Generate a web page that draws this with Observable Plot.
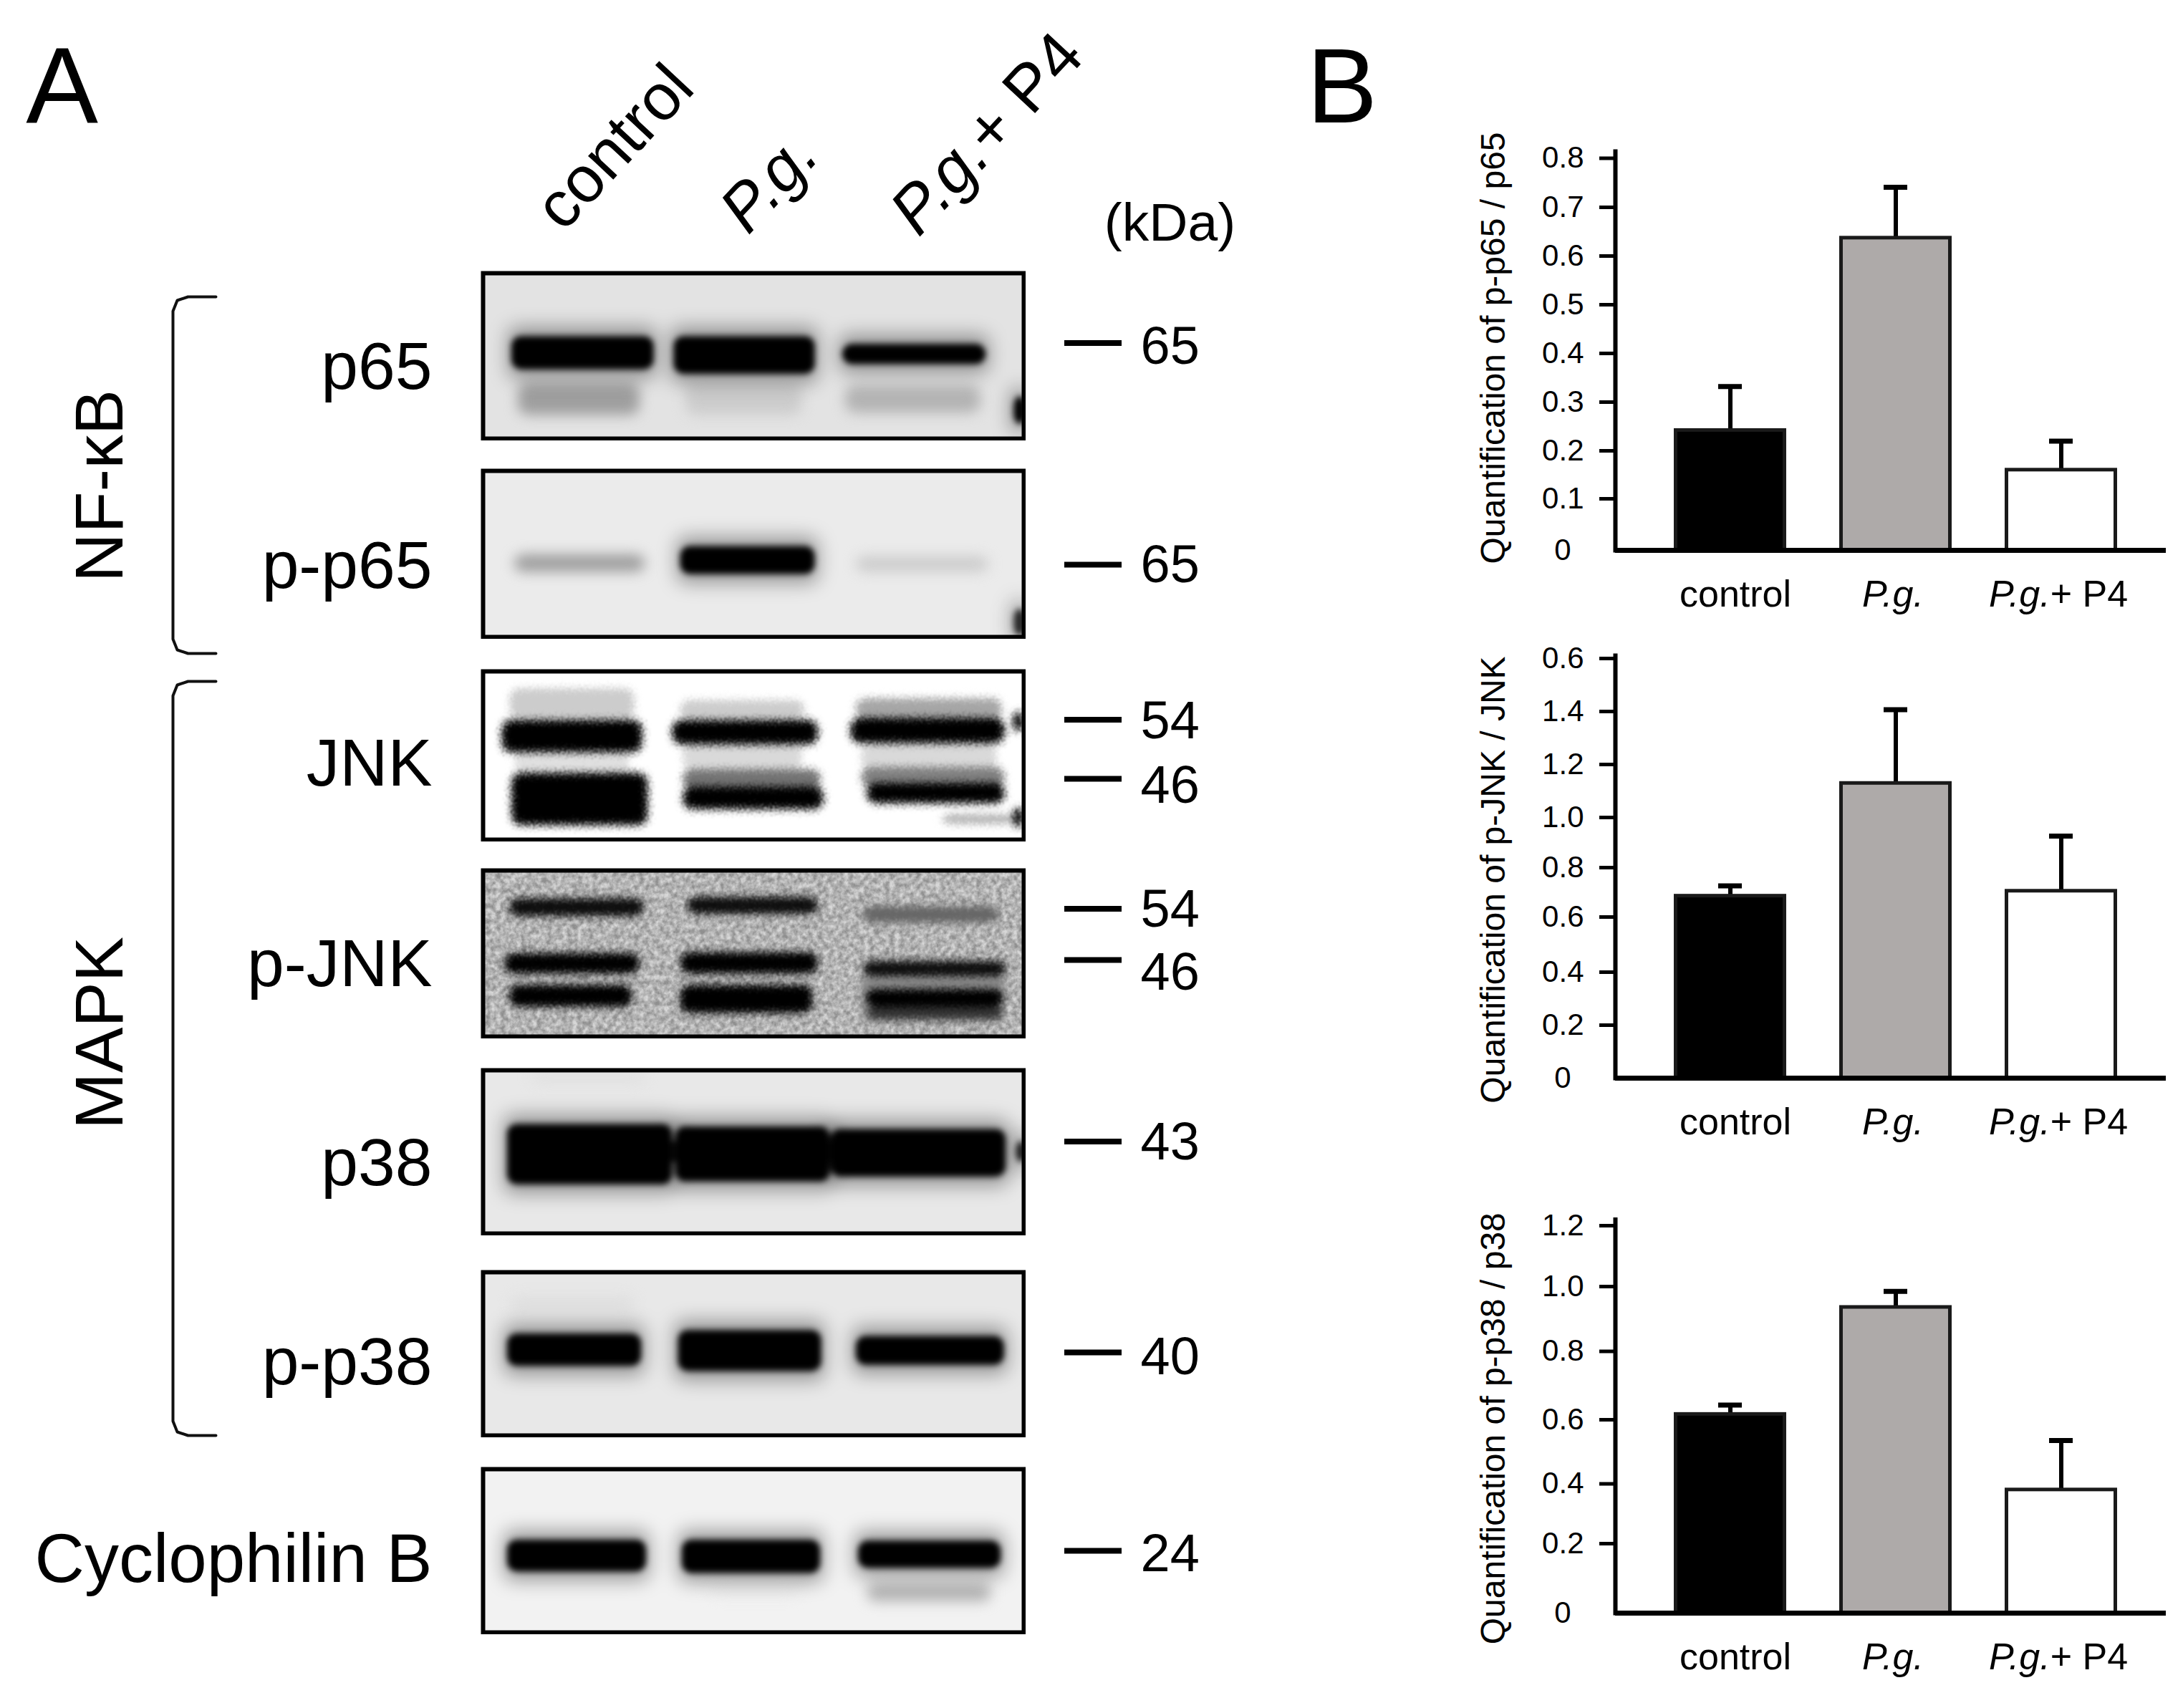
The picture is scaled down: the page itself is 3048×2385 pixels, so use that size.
<!DOCTYPE html>
<html><head><meta charset="utf-8">
<style>html,body{margin:0;padding:0;background:#fff}#page{position:relative;width:3048px;height:2385px;overflow:hidden;font-family:"Liberation Sans",Arial,sans-serif}#page>svg{position:absolute}</style>
<script src="https://cdn.jsdelivr.net/npm/d3@7"></script>
<script src="https://cdn.jsdelivr.net/npm/@observablehq/plot@0.6"></script>
</head><body>
<svg width="0" height="0" style="position:absolute">
<defs>
<filter id="speckle" x="-10%" y="-30%" width="120%" height="160%" color-interpolation-filters="sRGB">
<feGaussianBlur in="SourceGraphic" stdDeviation="5" result="b"/>
<feTurbulence type="fractalNoise" baseFrequency="0.45" numOctaves="2" seed="4" result="n"/>
<feDisplacementMap in="b" in2="n" scale="20" xChannelSelector="R" yChannelSelector="G"/>
<feGaussianBlur stdDeviation="0.8"/>
</filter>
<filter id="grain" x="0" y="0" width="100%" height="100%" color-interpolation-filters="sRGB">
<feTurbulence type="fractalNoise" baseFrequency="0.14" numOctaves="3" seed="9" result="n"/>
<feColorMatrix in="n" type="matrix" values="1.8 0 0 0 -.4 1.8 0 0 0 -.4 1.8 0 0 0 -.4 0 0 0 0 1" result="g"/>
<feComposite in="SourceGraphic" in2="g" operator="arithmetic" k1="0" k2="1" k3="0.28" k4="-0.14"/>
</filter>
</defs>
</svg>
<div id="page"></div>
<script>
// ---------- panel B values (bar height, top of error bar) ----------
const groups = ["control", "P.g.", "P.g.+ P4"];
const p65Mean = [0.242, 0.637, 0.16];
const p65Top = [0.332, 0.741, 0.22];
const jnkMean = [0.685, 1.129, 0.705];
const jnkTop = [0.726, 1.407, 0.926];
const p38Mean = [0.616, 0.936, 0.38];
const p38Top = [0.643, 0.985, 0.535];
const p65Ticks = [0, 0.1, 0.2, 0.3, 0.4, 0.5, 0.6, 0.7, 0.8];
const jnkTicks = [0, 0.2, 0.4, 0.6, 0.8, 1.0, 1.2, 1.4, 1.6];
const p38Ticks = [0, 0.2, 0.4, 0.6, 0.8, 1.0, 1.2];
const p65TickLabels = ["0", "0.1", "0.2", "0.3", "0.4", "0.5", "0.6", "0.7", "0.8"];
const jnkTickLabels = ["0", "0.2", "0.4", "0.6", "0.8", "1.0", "1.2", "1.4", "0.6"];
const p38TickLabels = ["0", "0.2", "0.4", "0.6", "0.8", "1.0", "1.2"];

// ---------- panel A: densities, [lane % from, lane % to, height % from, height % to, intensity] ----------
const p65Bands = [[5.7,31.2,39.6,57,1],[35.7,61,39.6,59.7,1],[66.9,92.6,44.3,53.8,1],[6.5,29,66.8,85.8,.38],[37.5,59,66.8,85.8,.2],[67,92,68,84.6,.3],[98.6,100,76,90,1]];
const pp65Bands = [[5.8,30,50.4,61,.38],[36.9,61,46.8,61,1],[69,93.5,51.5,61,.2],[98.6,100,84.6,98,.85]];
const jnkBands = [[3.5,29.5,29.9,47.4,1],[35,62,29.9,42.8,1],[68,96.5,28.7,42,1],[5.3,30.5,61.4,90.7,1],[37,63,69.6,81.3,1],[71,96.5,67.3,77.8,1],[37,62.5,59.1,69.6,.55],[70,96.5,57.9,68.5,.5],[5,28,11.2,27.6,.2],[36.5,59.5,18.2,27.6,.2],[69,96,17,27.6,.35],[6,27,46.3,62.6,.12],[37,59,43.9,57.9,.15],[70,95,43.9,57.9,.15],[98,100,25,35,1],[98,100,82,92,1],[85,98,86,90,.3]];
const pjnkBands = [[4.9,29.8,17.8,26.8,.95],[37.8,62,16.9,25.5,.95],[70.3,95.4,22.5,30.8,.6],[4,29,50.8,61.5,1],[36.5,62,50.2,61.5,1],[70.3,96.8,55.4,63,.95],[4.9,27.6,69.8,81.5,1],[36.5,61,69.8,85.2,1],[70.8,96.3,72.3,81.5,1],[71,96.3,83,89.2,.8],[70,96.5,63,90,.45]];
const p38Bands = [[4.9,34.6,34.4,68.8,1],[36,63.8,36,67,1],[64.7,96.3,37.5,64,1],[34,36.5,45,55,.95],[63.5,65,45,55,.9],[99,100,45,55,.9],[9,30,1,8,.12]];
const pp38Bands = [[4.9,28.9,39,56.3,1],[36.5,62.2,36.9,59.4,1],[69.4,96,40.6,55.6,1],[5,28,15,24,.13]];
const cypBands = [[4.9,29.8,44.7,61.6,1],[37.2,62,44.7,62.5,1],[69.8,95.4,45.3,59.4,1],[71,94,70.3,81.3,.3],[42,58.7,70.3,78,.08]];
const blotLabels = ["p65", "p-p65", "JNK", "p-JNK", "p38", "p-p38", "Cyclophilin B"];

const FONT = '"Liberation Sans", Arial, sans-serif';
const page = document.getElementById("page");
const svgStyle = {background: "none", maxWidth: "none", fontFamily: FONT, color: "#000", height: "auto"};
function place(svg, left, top) { svg.style.left = left + "px"; svg.style.top = top + "px"; page.appendChild(svg); return svg; }
function italicPg(root) {
  root.querySelectorAll("text").forEach(t => {
    const holder = t.querySelector("tspan") && t.childElementCount === 1 ? t.firstElementChild : t;
    const s = holder.textContent;
    if (!s.startsWith("P.g.")) return;
    holder.textContent = "";
    const ns = "http://www.w3.org/2000/svg";
    const a = document.createElementNS(ns, "tspan"); a.setAttribute("font-style", "italic"); a.textContent = "P.g.";
    holder.appendChild(a);
    if (s.length > 4) { const b = document.createElementNS(ns, "tspan"); b.setAttribute("font-style", "normal"); b.textContent = s.slice(4); holder.appendChild(b); }
  });
}

// ---------- bar charts ----------
function barChart({title, mean, top, ticks, tickLabels, range, svgTop, svgHeight, axisTop, titleDy}) {
  const rows = groups.map((g, i) => ({group: g, mean: mean[i], top: top[i]}));
  const nonZero = ticks.filter(t => t !== 0);
  const label = t => tickLabels[ticks.indexOf(t)];
  const svg = Plot.plot({
    width: 1068, height: svgHeight,
    marginLeft: 275, marginRight: 24, marginTop: axisTop, marginBottom: svgHeight - range[0],
    style: svgStyle,
    x: {type: "band", domain: groups, range: [2337 - 1980, 2957 - 1980], paddingInner: 0.32, paddingOuter: 0},
    y: {type: "linear", domain: ticks, range},
    color: {domain: groups, range: ["#000000", "#aeaaa9", "#ffffff"]},
    marks: [
      Plot.ruleX(rows, {x: "group", y1: "mean", y2: "top", stroke: "#000", strokeWidth: 6}),
      Plot.tickY(rows, {x: "group", y: "top", stroke: "#000", strokeWidth: 7, insetLeft: 62, insetRight: 62}),
      Plot.barY(rows, {x: "group", y1: 0, y2: "mean", fill: "group", stroke: "#1a1a1a", strokeWidth: 5, insetLeft: 2.5, insetRight: 2.5}),
      Plot.frame({anchor: "left", stroke: "#000", strokeWidth: 6}),
      Plot.ruleY([0], {stroke: "#000", strokeWidth: 7}),
      Plot.axisY(nonZero, {anchor: "left", tickSize: 22, tickPadding: 22, strokeWidth: 5, stroke: "#000", fill: "#000", fontSize: 42, label: null, tickFormat: label}),
      Plot.axisY([0], {anchor: "left", tickSize: 0, tickPadding: 62, fill: "#000", fontSize: 42, label: null, tickFormat: label}),
      Plot.axisX({anchor: "bottom", tickSize: 0, tickPadding: 42, fill: "#000", fontSize: 52, label: null}),
      Plot.text([title], {text: d => d, frameAnchor: "left", textAnchor: "middle", rotate: -90, lineAnchor: "bottom", dx: -155, dy: titleDy, fontSize: 48, fill: "#000"})
    ]
  });
  italicPg(svg);
  const shift = {"control": 7, "P.g.": -4, "P.g.+ P4": -4};
  svg.querySelectorAll("text").forEach(t => { if (t.textContent in shift) t.setAttribute("dx", shift[t.textContent]); });
  place(svg, 1980, svgTop);
}
barChart({title: "Quantification of p-p65 / p65", mean: p65Mean, top: p65Top, ticks: p65Ticks, tickLabels: p65TickLabels,
  range: [598,526,459,391,323,255,187,119,50.5], svgTop: 170, svgHeight: 720, axisTop: 41, titleDy: -4});
barChart({title: "Quantification of p-JNK / JNK", mean: jnkMean, top: jnkTop, ticks: jnkTicks, tickLabels: jnkTickLabels,
  range: [615,541,467,390,321,251,177,103,29], svgTop: 890, svgHeight: 720, axisTop: 25, titleDy: 18});
barChart({title: "Quantification of p-p38 / p38", mean: p38Mean, top: p38Top, ticks: p38Ticks, tickLabels: p38TickLabels,
  range: [592,495,411.5,322,226.5,136,51], svgTop: 1660, svgHeight: 725, axisTop: 42.5, titleDy: 17});

// ---------- blots ----------
function blot(bands, {top, h, bg, kind}) {
  const rows = bands.map(([x1, x2, y1, y2, v]) => ({x1, x2, y1, y2, v})).sort((a, b) => a.v - b.v);
  const rectOpts = {x1: "x1", x2: "x2", y1: "y1", y2: "y2", fill: "v", rx: 14};
  const strong = rows.filter(d => d.v >= 0.6), faint = rows.filter(d => d.v < 0.6);
  const marks = [Plot.rect([{v: bg}], {fill: "v", imageFilter: kind === "grain" ? "url(#grain)" : "none"})];
  if (kind === "ecl") {
    marks.push(
      Plot.rect(faint, {...rectOpts, imageFilter: "blur(9px)"}),
      Plot.rect(strong, {...rectOpts, insetTop: -16, insetBottom: -16, insetLeft: -8, insetRight: -8, opacity: 0.35, imageFilter: "blur(13px)"}),
      Plot.rect(strong, {...rectOpts, insetTop: -3, insetBottom: -3, insetLeft: -3, insetRight: -3, imageFilter: "blur(4px)"})
    );
  } else {
    marks.push(Plot.rect(rows, {...rectOpts, insetTop: -2, insetBottom: -2, imageFilter: "url(#speckle)"}));
  }
  marks.push(Plot.frame({stroke: "#000", strokeWidth: 6}));
  const svg = Plot.plot({
    width: 761, height: h + 6, marginLeft: 3, marginRight: 3, marginTop: 3, marginBottom: 3,
    style: svgStyle,
    x: {domain: [0, 100], axis: null}, y: {domain: [0, 100], axis: null, reverse: true},
    color: {type: "linear", domain: [0, 1], range: ["#ffffff", "#000000"]},
    marks
  });
  place(svg, 671, top - 3);
}
blot(p65Bands, {top: 381, h: 231, bg: 0.11, kind: "ecl"});
blot(pp65Bands, {top: 657, h: 232, bg: 0.08, kind: "ecl"});
blot(jnkBands, {top: 937, h: 235, bg: 0, kind: "speckle"});
blot(pjnkBands, {top: 1215, h: 232, bg: 0.3, kind: "grain"});
blot(p38Bands, {top: 1494, h: 228, bg: 0.09, kind: "ecl"});
blot(pp38Bands, {top: 1776, h: 228, bg: 0.09, kind: "ecl"});
blot(cypBands, {top: 2051, h: 228, bg: 0.05, kind: "ecl"});

// ---------- annotation layer ----------
const lab = (text, x, y, fontSize, o = {}) => Plot.text([text], {text: d => d, x: () => x, y: () => y, fontSize, fill: "#000", lineAnchor: "bottom", textAnchor: "start", ...o});
const rowBase = [542, 820, 1096, 1376, 1654, 1932, 2208];
const markers = [["65",478.5,507],["65",788,812.5],["54",1004.5,1030],["46",1087,1120],["54",1268.6,1293.6],["46",1340,1381],["43",1593.6,1618.6],["40",1888,1918.6],["24",2165,2193.6]];
const bracket = (y1, y2) => [[301,y1],[262,y1],[247,y1+5],[241,y1+20],[241,y2-20],[247,y2-5],[262,y2],[301,y2]];
const overlay = Plot.plot({
  width: 3048, height: 2385, margin: 0, style: svgStyle,
  x: {domain: [0, 3048], range: [0, 3048], axis: null},
  y: {domain: [0, 2385], range: [0, 2385], axis: null},
  marks: [
    lab("A", 86, 170, 151, {textAnchor: "middle"}),
    lab("B", 1824, 170, 148),
    lab("control", 786, 325, 91, {rotate: -47}),
    lab("P.g.", 1044, 329, 91, {rotate: -47}),
    lab("P.g.+ P4", 1282, 332, 92, {rotate: -47}),
    lab("(kDa)", 1633, 335, 75, {textAnchor: "middle"}),
    ...blotLabels.map((t, i) => lab(t, 603, rowBase[i], i === 6 ? 96 : 93, {textAnchor: "end"})),
    lab("NF-κB", 170, 678, 95, {rotate: -90, textAnchor: "middle"}),
    lab("MAPK", 170, 1442, 95, {rotate: -90, textAnchor: "middle"}),
    ...markers.map(m => lab(m[0], 1592, m[2], 74)),
    Plot.ruleY(markers, {y: d => d[1], x1: () => 1486, x2: () => 1566, stroke: "#000", strokeWidth: 8}),
    Plot.line(bracket(414, 912), {x: d => d[0], y: d => d[1], stroke: "#111", strokeWidth: 4}),
    Plot.line(bracket(951, 2004), {x: d => d[0], y: d => d[1], stroke: "#111", strokeWidth: 4})
  ]
});
italicPg(overlay);
place(overlay, 0, 0);
</script>
</body></html>
